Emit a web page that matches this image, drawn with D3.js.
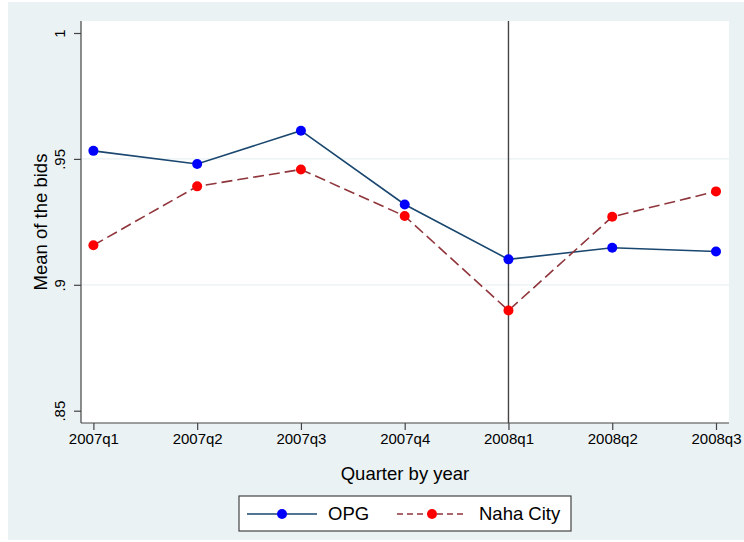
<!DOCTYPE html>
<html>
<head>
<meta charset="utf-8">
<script src="https://cdnjs.cloudflare.com/ajax/libs/d3/7.8.5/d3.min.js"></script>
<style>
  body { margin: 0; background: #fff; }
  svg { display: block; font-family: "Liberation Sans", Arial, sans-serif; }
</style>
</head>
<body>
<svg id="chart" width="744" height="542"></svg>
<script>
const quarters = ["2007q1", "2007q2", "2007q3", "2007q4", "2008q1", "2008q2", "2008q3"];
const opg = [0.9532, 0.9480, 0.9612, 0.9319, 0.9101, 0.9147, 0.9132];
const naha = [0.9157, 0.9391, 0.9458, 0.9273, 0.8898, 0.9270, 0.9371];
const yTicks = [0.85, 0.9, 0.95, 1];
const yTickLabels = [".85", ".9", ".95", "1"];
const gridTicks = [0.9, 0.95];
const markerQuarter = "2008q1";

const svg = d3.select("#chart");
const plot = {left: 81, right: 729, top: 21, bottom: 423};

// outer graph region
svg.append("rect").attr("x", 8).attr("y", 2).attr("width", 736).attr("height", 538)
  .attr("fill", "#eaf2f3");
svg.append("rect").attr("x", plot.left).attr("y", plot.top)
  .attr("width", plot.right - plot.left).attr("height", plot.bottom - plot.top)
  .attr("fill", "#fff");

const x = d3.scalePoint().domain(quarters).range([93.4, 716]);
const y = d3.scaleLinear().domain([0.85, 1]).range([410.7, 33]);

// grid
svg.selectAll(".grid").data(gridTicks).enter().append("line")
  .attr("x1", plot.left).attr("x2", plot.right)
  .attr("y1", d => y(d)).attr("y2", d => y(d))
  .attr("stroke", "#eaf2f3").attr("stroke-width", 1.2);

// y axis
const yAxis = svg.append("g").attr("transform", `translate(${plot.left},0)`)
  .call(d3.axisLeft(y).tickValues(yTicks).tickSize(7).tickPadding(0)
    .tickFormat((d, i) => yTickLabels[i]));
yAxis.select(".domain").remove();
yAxis.append("line").attr("y1", plot.top).attr("y2", plot.bottom)
  .attr("stroke", "#444").attr("stroke-width", 1.2);
yAxis.selectAll(".tick line").attr("stroke", "#444").attr("stroke-width", 1.2);
yAxis.selectAll(".tick text")
  .attr("x", 0).attr("dy", null).attr("y", 0)
  .attr("transform", "translate(-16,0) rotate(-90)")
  .attr("text-anchor", "middle")
  .attr("font-size", 15).attr("fill", "#000")
  .attr("font-family", "Liberation Sans, Arial, sans-serif");

// x axis
const xAxis = svg.append("g").attr("transform", `translate(0,${plot.bottom})`)
  .call(d3.axisBottom(x).tickSize(7).tickPadding(3));
xAxis.select(".domain").remove();
xAxis.append("line").attr("x1", plot.left).attr("x2", plot.right)
  .attr("stroke", "#444").attr("stroke-width", 1.2);
xAxis.selectAll(".tick line").attr("stroke", "#444").attr("stroke-width", 1.2);
xAxis.selectAll(".tick text")
  .attr("font-size", 15).attr("fill", "#000")
  .attr("font-family", "Liberation Sans, Arial, sans-serif");

// axis titles
svg.append("text").attr("transform", `translate(47,${(plot.top + plot.bottom) / 2}) rotate(-90)`)
  .attr("text-anchor", "middle").attr("font-size", 18.5).text("Mean of the bids");
svg.append("text").attr("x", (plot.left + plot.right) / 2).attr("y", 480)
  .attr("text-anchor", "middle").attr("font-size", 18.5).text("Quarter by year");

// vertical reference line
svg.append("line").attr("x1", x(markerQuarter)).attr("x2", x(markerQuarter))
  .attr("y1", plot.top).attr("y2", plot.bottom)
  .attr("stroke", "#444").attr("stroke-width", 1.4);

const series = [
  {name: "OPG", values: opg, line: "#1a476f", marker: "#0000ff", dash: null},
  {name: "Naha City", values: naha, line: "#90353b", marker: "#ff0000", dash: "11,5"}
];

const line = d3.line().x((d, i) => x(quarters[i])).y(d => y(d));

series.forEach(s => {
  svg.append("path").datum(s.values).attr("d", line)
    .attr("fill", "none").attr("stroke", s.line).attr("stroke-width", 1.6)
    .attr("stroke-dasharray", s.dash);
  svg.selectAll(null).data(s.values).enter().append("circle")
    .attr("cx", (d, i) => x(quarters[i])).attr("cy", d => y(d)).attr("r", 5)
    .attr("fill", s.marker);
});

// legend
const lg = svg.append("g");
lg.append("rect").attr("x", 239).attr("y", 496).attr("width", 332).attr("height", 35)
  .attr("fill", "#fff").attr("stroke", "#444").attr("stroke-width", 1.2);
const legendPos = [{x1: 247, x2: 317, tx: 328}, {x1: 397, x2: 467, tx: 479}];
series.forEach((s, i) => {
  const p = legendPos[i];
  lg.append("line").attr("x1", p.x1).attr("x2", p.x2).attr("y1", 514).attr("y2", 514)
    .attr("stroke", s.line).attr("stroke-width", 1.5)
    .attr("stroke-dasharray", s.dash ? "6,4" : null);
  lg.append("circle").attr("cx", (p.x1 + p.x2) / 2).attr("cy", 514).attr("r", 5).attr("fill", s.marker);
  lg.append("text").attr("x", p.tx).attr("y", 520).attr("font-size", 18.5).text(s.name);
});
</script>
</body>
</html>
